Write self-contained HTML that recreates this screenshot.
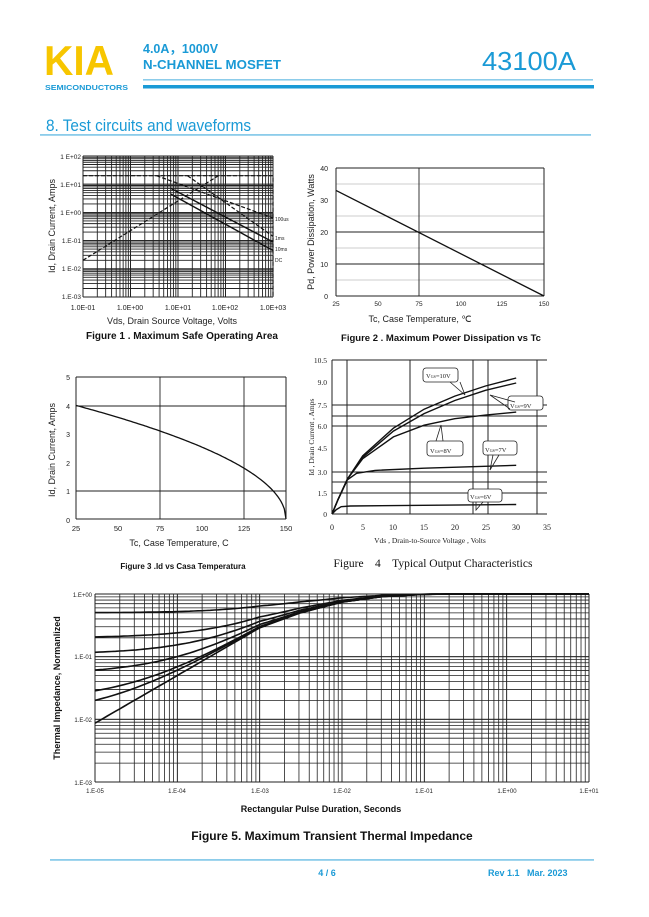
<!DOCTYPE html>
<html><head><meta charset="utf-8"><style>
html,body{margin:0;padding:0;background:#fff}
svg{display:block}
</style></head><body>
<svg id="c" width="649" height="917" viewBox="0 0 649 917" xmlns="http://www.w3.org/2000/svg" font-family="Liberation Sans,sans-serif">
<!-- header -->
<text x="44" y="75" font-size="42" font-weight="bold" fill="#f7c600" textLength="70" lengthAdjust="spacingAndGlyphs">KIA</text>
<text x="45" y="90" font-size="7.5" font-weight="bold" fill="#1a9ad6" textLength="83" lengthAdjust="spacingAndGlyphs">SEMICONDUCTORS</text>
<text x="143" y="53" font-size="12.5" font-weight="bold" fill="#1a9ad6" font-family="Liberation Sans,Noto Sans CJK SC,sans-serif">4.0A，1000V</text>
<text x="143" y="69" font-size="12.5" font-weight="bold" fill="#1a9ad6" textLength="138" lengthAdjust="spacingAndGlyphs">N-CHANNEL MOSFET</text>
<text x="482" y="70" font-size="26" fill="#1a9ad6" textLength="94" lengthAdjust="spacingAndGlyphs">43100A</text>
<rect x="143" y="79.5" width="450" height="0.8" fill="#1a9ad6"/>
<rect x="143" y="85" width="451" height="3.5" fill="#1a9ad6"/>
<text x="46" y="131" font-size="17" fill="#1a9ad6" textLength="205" lengthAdjust="spacingAndGlyphs">8. Test circuits and waveforms</text>
<rect x="40" y="134.5" width="551" height="0.9" fill="#1a9ad6"/>

<!-- fig1 labels -->
<g font-size="6.5" fill="#222" text-anchor="end">
<text x="81" y="159">1 E+02</text><text x="81" y="187">1.E+01</text><text x="81" y="215">1 E+00</text>
<text x="81" y="243">1.E-01</text><text x="81" y="271">1 E-02</text><text x="81" y="299">1.E-03</text>
</g>
<g font-size="7" fill="#222" text-anchor="middle">
<text x="83" y="310">1.0E-01</text><text x="130" y="310">1.0E+00</text><text x="178" y="310">1.0E+01</text>
<text x="225" y="310">1.0E+02</text><text x="273" y="310">1.0E+03</text>
</g>
<g font-size="5" fill="#222"><text x="275" y="221">100us</text><text x="275" y="240">1ms</text><text x="275" y="251">10ms</text><text x="275" y="262">DC</text></g>
<text x="172" y="324" font-size="9" fill="#222" text-anchor="middle">Vds, Drain Source Voltage, Volts</text>
<text x="55" y="226" font-size="9" fill="#222" text-anchor="middle" transform="rotate(-90 55 226)">Id, Drain Current, Amps</text>
<text x="182" y="339" font-size="10" font-weight="bold" fill="#111" text-anchor="middle">Figure 1 . Maximum Safe Operating Area</text>

<!-- fig2 labels -->
<g font-size="7" fill="#222" text-anchor="end">
<text x="328" y="171">40</text><text x="328" y="203">30</text><text x="328" y="235">20</text><text x="328" y="267">10</text><text x="328" y="299">0</text>
</g>
<g font-size="6.5" fill="#222" text-anchor="middle">
<text x="336" y="306">25</text><text x="378" y="306">50</text><text x="419" y="306">75</text><text x="461" y="306">100</text><text x="502" y="306">125</text><text x="544" y="306">150</text>
</g>
<text x="420" y="322" font-size="9" fill="#222" text-anchor="middle">Tc, Case Temperature, ℃</text>
<text x="314" y="232" font-size="9" fill="#222" text-anchor="middle" transform="rotate(-90 314 232)">Pd, Power Dissipation, Watts</text>
<text x="441" y="341" font-size="9.5" font-weight="bold" fill="#111" text-anchor="middle">Figure 2 . Maximum Power Dissipation vs  Tc</text>

<!-- fig3 labels -->
<g font-size="7" fill="#222" text-anchor="end">
<text x="70" y="380">5</text><text x="70" y="409">4</text><text x="70" y="437">3</text><text x="70" y="466">2</text><text x="70" y="494">1</text><text x="70" y="523">0</text>
</g>
<g font-size="7.5" fill="#222" text-anchor="middle">
<text x="76" y="531">25</text><text x="118" y="531">50</text><text x="160" y="531">75</text><text x="202" y="531">100</text><text x="244" y="531">125</text><text x="286" y="531">150</text>
</g>
<text x="179" y="546" font-size="9" fill="#222" text-anchor="middle">Tc, Case Temperature, C</text>
<text x="55" y="450" font-size="9" fill="#222" text-anchor="middle" transform="rotate(-90 55 450)">Id, Drain Current, Amps</text>
<text x="183" y="569" font-size="8" font-weight="bold" fill="#111" text-anchor="middle">Figure 3 .Id vs Casa Temperatura</text>

<!-- fig4 labels -->
<g font-size="7.5" fill="#222" text-anchor="end" font-family="Liberation Serif,serif">
<text x="327" y="363">10.5</text><text x="327" y="385">9.0</text><text x="327" y="408">7.5</text><text x="327" y="429">6.0</text>
<text x="327" y="451">4.5</text><text x="327" y="475">3.0</text><text x="327" y="496">1.5</text><text x="327" y="517">0</text>
</g>
<g font-size="8" fill="#222" text-anchor="middle" font-family="Liberation Serif,serif">
<text x="332" y="530">0</text><text x="363" y="530">5</text><text x="393" y="530">10</text><text x="424" y="530">15</text>
<text x="455" y="530">20</text><text x="486" y="530">25</text><text x="516" y="530">30</text><text x="547" y="530">35</text>
</g>
<text x="430" y="543" font-size="7.5" fill="#222" text-anchor="middle" font-family="Liberation Serif,serif">Vds , Drain-to-Source Voltage , Volts</text>
<text x="314" y="437" font-size="7.5" fill="#222" text-anchor="middle" transform="rotate(-90 314 437)" font-family="Liberation Serif,serif">Id , Drain Current , Amps</text>
<text x="433" y="567" font-size="11.5" fill="#111" text-anchor="middle" font-family="Liberation Serif,serif" xml:space="preserve" style="white-space:pre">Figure    4    Typical Output Characteristics</text>

<!-- fig5 labels -->
<g font-size="6" fill="#222" text-anchor="end">
<text x="92" y="597">1.E+00</text><text x="92" y="659">1.E-01</text><text x="92" y="722">1.E-02</text><text x="92" y="785">1.E-03</text>
</g>
<g font-size="6" fill="#222" text-anchor="middle">
<text x="95" y="793">1.E-05</text><text x="177" y="793">1.E-04</text><text x="260" y="793">1.E-03</text><text x="342" y="793">1.E-02</text>
<text x="424" y="793">1.E-01</text><text x="507" y="793">1.E+00</text><text x="589" y="793">1.E+01</text>
</g>
<text x="321" y="812" font-size="9" font-weight="bold" fill="#111" text-anchor="middle">Rectangular Pulse Duration, Seconds</text>
<text x="60" y="688" font-size="9" font-weight="bold" fill="#111" text-anchor="middle" transform="rotate(-90 60 688)">Thermal Impedance, Normanlized</text>
<text x="332" y="840" font-size="12" font-weight="bold" fill="#111" text-anchor="middle">Figure 5. Maximum Transient Thermal Impedance</text>

<!-- footer -->
<rect x="50" y="859.5" width="544" height="0.9" fill="#1a9ad6"/>
<text x="327" y="876" font-size="9" font-weight="bold" fill="#1a9ad6" text-anchor="middle">4 / 6</text>
<text x="488" y="876" font-size="9" font-weight="bold" fill="#1a9ad6" xml:space="preserve" style="white-space:pre">Rev 1.1   Mar. 2023</text>

<g id="g"></g>

<!-- fig4 callouts -->
<g fill="#fff" stroke="#222" stroke-width="0.8" font-family="Liberation Serif,serif" font-size="6.5">
<rect x="423" y="368" width="35" height="14" rx="3"/><text x="426" y="378" stroke="none" fill="#222">V<tspan font-size="4">GS</tspan>=10V</text>
<rect x="508" y="396" width="35" height="14" rx="3"/><text x="510" y="408" stroke="none" fill="#222">V<tspan font-size="4">GS</tspan>=9V</text>
<rect x="427" y="441" width="36" height="15" rx="3"/><text x="430" y="453" stroke="none" fill="#222">V<tspan font-size="4">GS</tspan>=8V</text>
<rect x="483" y="441" width="34" height="14" rx="3"/><text x="485" y="452" stroke="none" fill="#222">V<tspan font-size="4">GS</tspan>=7V</text>
<rect x="468" y="489" width="34" height="13" rx="3"/><text x="470" y="499" stroke="none" fill="#222">V<tspan font-size="4">GS</tspan>=6V</text>
</g>
<g stroke="#222" stroke-width="0.8" fill="none">
<polyline points="450,382 465,395 460,382"/>
<polyline points="515,402 490,395 510,409"/>
<polyline points="436,441 441,425 443,441"/>
<polyline points="493,455 490,470 499,455"/>
<polyline points="476,502 476,510 483,502"/>
</g>
</svg>
<script>
var g=document.getElementById('g'),NS='http://www.w3.org/2000/svg';
function L(x1,y1,x2,y2,w,c,d){var e=document.createElementNS(NS,'line');e.setAttribute('x1',x1);e.setAttribute('y1',y1);e.setAttribute('x2',x2);e.setAttribute('y2',y2);e.setAttribute('stroke',c||'#222');e.setAttribute('stroke-width',w||0.8);if(d)e.setAttribute('stroke-dasharray',d);g.appendChild(e);}
function P(pts,w,d){var e=document.createElementNS(NS,'polyline');e.setAttribute('points',pts.map(function(p){return p[0].toFixed(1)+','+p[1].toFixed(1)}).join(' '));e.setAttribute('fill','none');e.setAttribute('stroke','#111');e.setAttribute('stroke-width',w||1.3);if(d)e.setAttribute('stroke-dasharray',d);g.appendChild(e);}
function logGrid(x0,x1,dx,y0,y1,dy,w){
 var i,k,px=(x1-x0)/dx,py=(y1-y0)/dy;
 for(i=0;i<dx;i++)for(k=1;k<=10;k++){var x=x0+px*(i+Math.log10(k));L(x,y0,x,y1,w);}
 for(i=0;i<dy;i++)for(k=1;k<=10;k++){var y=y1-py*(i+Math.log10(k));L(x0,y,x1,y,w);}
 L(x0,y0,x0,y1,1);L(x1,y0,x1,y1,1);L(x0,y0,x1,y0,1);L(x0,y1,x1,y1,1);
}
// fig1
logGrid(83,273,4,156,297,5,0.9);
function f1(lx,ly){return [83+(lx+1)*47.5,297-(ly+3)*28.2];}
P([f1(-1,1.3),f1(3,1.3),f1(3,-3)],1.2,'4,2');
P([f1(-1,-1.7),f1(1.85,1.3)],1.2,'4,2');
P([f1(0.55,1.3),f1(3,-0.2)],1.2,'4,2');
P([f1(1.2,1.3),f1(3,-0.85)],1.2,'4,2');
P([f1(0.85,0.85),f1(3,-1.05)],1.4);
P([f1(0.85,0.65),f1(3,-1.35)],1.4);
// fig2
[35,25,15,5].forEach(function(v){var y=296-v*3.2;L(336,y,544,y,0.8,'#bbb');});
[20,10].forEach(function(v){var y=296-v*3.2;L(336,y,544,y,0.9);});
L(419,168,419,296,0.9);L(336,168,544,168,1);L(336,296,544,296,1);L(336,168,336,296,1);L(544,168,544,296,1);
P([[336,296-33*3.2],[544,296]],1.3);
// fig3
L(76,377,286,377,1);L(76,519,286,519,1);L(76,377,76,519,1);L(286,377,286,519,1);
L(76,406,286,406,0.9);L(76,491,286,491,0.9);L(160,377,160,519,0.9);L(244,377,244,519,0.9);
var p3=[];for(var T=25;T<=150;T+=1){p3.push([76+(T-25)*210/125,519-4*Math.sqrt((150-T)/125)*28.4]);}P(p3,1.3);
// fig4
L(332,360,547,360,1);L(332,514,547,514,1);L(332,360,332,514,1);
[347,410,473,488,537].forEach(function(x){L(x,360,x,514,1);});
[405,416,426,472,482,493].forEach(function(y){L(332,y,547,y,1);});
function f4(a){return a.map(function(p){return [332+p[0]*6.14,514-p[1]*14.55];});}
P(f4([[0,0],[1,1],[2.5,2.4],[5,4.0],[10,5.9],[15,7.2],[20,8.1],[25,8.8],[30,9.35]]),1.4);
P(f4([[0,0],[1,1],[2.5,2.4],[5,3.9],[10,5.7],[15,6.9],[20,7.8],[25,8.5],[30,9.0]]),1.4);
P(f4([[0,0],[1,1],[2.5,2.4],[5,3.8],[10,5.3],[15,6.1],[20,6.55],[25,6.8],[30,7.0]]),1.4);
P(f4([[0,0],[1,1],[2.5,2.35],[4,2.8],[7,3.0],[15,3.15],[30,3.35]]),1.4);
P(f4([[0,0],[0.7,0.3],[1.5,0.5],[3,0.55],[30,0.65]]),1.4);
// fig5
logGrid(95,589,6,594,782,3,0.8);
function zs(lt){var k=[[-5,-2.06],[-3,-0.54],[-2.5,-0.3],[-2,-0.13],[-1.5,-0.04],[-1,-0.005],[-0.5,0],[1,0]];for(var i=0;i<k.length-1;i++){if(lt<=k[i+1][0]){var t=(lt-k[i][0])/(k[i+1][0]-k[i][0]);return Math.pow(10,k[i][1]+t*(k[i+1][1]-k[i][1]));}}return 1;}
[0,0.0115,0.02,0.053,0.11,0.2,0.5].forEach(function(s){
 var pts=[];for(var lt=-5;lt<=1.001;lt+=0.05){var z=s+(1-s)*zs(lt);pts.push([95+(lt+5)*82.33,Math.min(782,594-Math.log10(z)*62.7)]);}
 P(pts,1.6);
});
</script>
</body></html>
